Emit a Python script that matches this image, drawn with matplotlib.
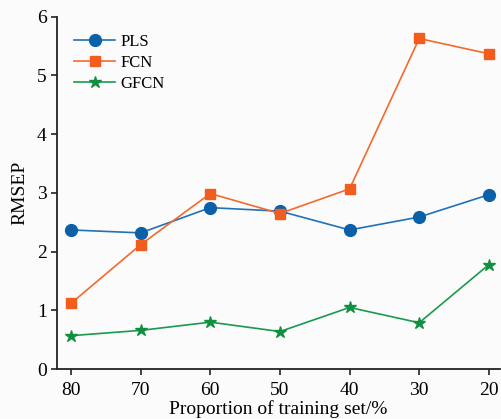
import matplotlib
matplotlib.use("Agg")
import matplotlib.pyplot as plt

proportions = [80, 70, 60, 50, 40, 30, 20]
pls = [2.37, 2.32, 2.75, 2.69, 2.37, 2.59, 2.97]
fcn = [1.12, 2.12, 2.99, 2.65, 3.07, 5.63, 5.37]
gfcn = [0.57, 0.66, 0.80, 0.64, 1.05, 0.79, 1.78]

plt.rcParams['font.family'] = ['Liberation Serif', 'DejaVu Serif']

fig = plt.figure(figsize=(5.01, 4.19), dpi=100, facecolor='#fbfbfb')
ax = fig.add_axes([0.114, 0.119, 0.884, 0.841], facecolor='#fbfbfb')

ax.plot(proportions, pls, color='#1f72b8', marker='o', markersize=8.5,
        markerfacecolor='#0b60a8', markeredgecolor='#0b60a8', lw=1.2, label='PLS')
ax.plot(proportions, fcn, color='#f26a2e', marker='s', markersize=6.5,
        markerfacecolor='#f25c1c', markeredgecolor='#f25c1c', lw=1.2, label='FCN')
ax.plot(proportions, gfcn, color='#1a9a4e', marker='*', markersize=9,
        markerfacecolor='#0f9040', markeredgecolor='#0f9040', lw=1.2, label='GFCN')

ax.set_xlim(82.0, 18.4)
ax.set_ylim(0, 6)
ax.set_xticks(proportions)
ax.set_yticks(range(0, 7))
for s in ['top', 'right']:
    ax.spines[s].set_visible(False)
for s in ['left', 'bottom']:
    ax.spines[s].set_linewidth(1.3)
    ax.spines[s].set_color('#222222')
ax.tick_params(labelsize=14, width=1.2, length=4, color='#222222')
ax.tick_params(axis='x', pad=5)
ax.set_xlabel('Proportion of training set/%', fontsize=14, labelpad=1)
ax.set_ylabel('RMSEP', fontsize=14, labelpad=6)

ax.legend(loc='upper left', bbox_to_anchor=(0.015, 0.98), frameon=False,
          fontsize=12, handlelength=2.5, handletextpad=0.3, labelspacing=0.3,
          borderaxespad=0.2)

fig.savefig('out.png', dpi=100, facecolor=fig.get_facecolor())
